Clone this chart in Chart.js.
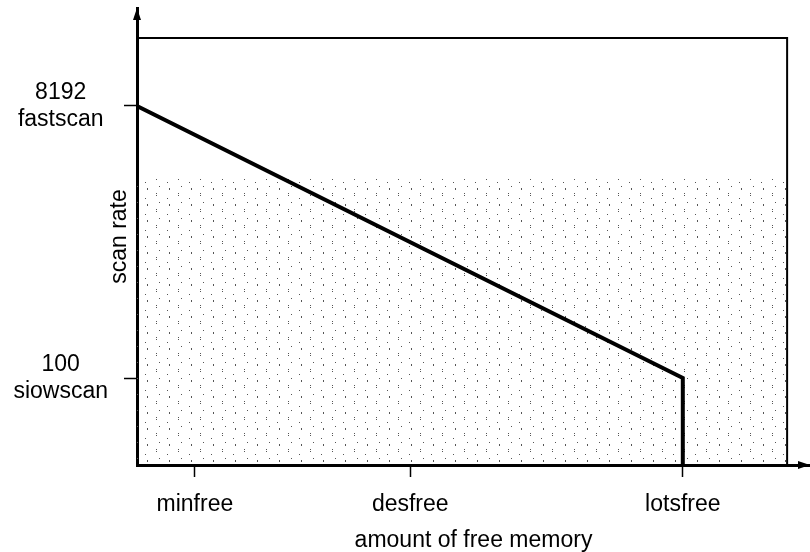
<!DOCTYPE html>
<html>
<head>
<meta charset="utf-8">
<script src="https://cdn.jsdelivr.net/npm/chart.js@4.4.0/dist/chart.umd.min.js"></script>
<style>
  body { margin: 0; background: #fff; }
  canvas { display: block; }
</style>
</head>
<body>
<canvas id="chart" width="810" height="552"></canvas>
<script>
// x is in % of the axis length, y is the scan rate
const freeMemLabels = ["minfree", "desfree", "lotsfree"];
const freeMemValues = [8.6, 40.6, 81.1];
const rateLabels = [["100", "siowscan"], ["8192", "fastscan"]];
const rateValues = [100, 8192];

const scanX = [0, 81.1, 81.1];
const scanY = [8192, 100, -2488];

const boxX = [0, 96.6, 96.6];
const boxY = [10215, 10215, -2488];

const shadeX = [0, 96.6];
const shadeY = [6050, 6050];

const pts = (xs, ys) => xs.map((x, i) => ({ x: x, y: ys[i] }));

// dotted halftone of the scanned figure
function dots() {
  const c = document.createElement("canvas");
  c.width = 22; c.height = 16;
  const g = c.getContext("2d");
  g.fillStyle = "#555";
  [[2,1],[2,3],[5,10],[13,6],[15,12],[15,13]].forEach(p => g.fillRect(p[0], p[1], 1, 1));
  return g.createPattern(c, "repeat");
}

const arrows = {
  id: "arrows",
  afterDraw(chart) {
    const ctx = chart.ctx, x = chart.scales.x, y = chart.scales.y;
    const x0 = x.getPixelForValue(0), y0 = y.getPixelForValue(-2488);
    const xEnd = x.getPixelForValue(100), yEnd = y.getPixelForValue(11107);
    ctx.save();
    ctx.fillStyle = "#000";
    ctx.beginPath();
    ctx.moveTo(x0, yEnd); ctx.lineTo(x0 - 4, yEnd + 12); ctx.lineTo(x0 + 4, yEnd + 12);
    ctx.fill();
    ctx.beginPath();
    ctx.moveTo(xEnd, y0); ctx.lineTo(xEnd - 12, y0 - 4); ctx.lineTo(xEnd - 12, y0 + 4);
    ctx.fill();
    ctx.restore();
  }
};

const font = { family: "'Liberation Sans', Arial, sans-serif", size: 23 };

new Chart("chart", {
  type: "line",
  data: {
    datasets: [
      {
        data: pts(scanX, scanY),
        borderColor: "#000",
        borderWidth: 4,
        pointRadius: 0,
        fill: false,
        order: 1
      },
      {
        data: pts(boxX, boxY),
        borderColor: "#000",
        borderWidth: 2,
        pointRadius: 0,
        fill: false,
        order: 2
      },
      {
        data: pts(shadeX, shadeY),
        borderWidth: 0,
        pointRadius: 0,
        fill: "start",
        backgroundColor: dots(),
        order: 3
      }
    ]
  },
  options: {
    responsive: false,
    animation: false,
    layout: { padding: { top: 8, right: 0, left: 0, bottom: 0 } },
    plugins: { legend: { display: false }, tooltip: { enabled: false } },
    scales: {
      x: {
        type: "linear",
        min: 0,
        max: 100,
        afterFit: s => { s.height = 87; s.paddingLeft = 0; s.paddingRight = 0; },
        afterBuildTicks: s => { s.ticks = freeMemValues.map(v => ({ value: v })); },
        ticks: {
          autoSkip: false,
          maxRotation: 0,
          padding: 14,
          color: "#000",
          font: font,
          callback: (v) => freeMemLabels[freeMemValues.indexOf(v)]
        },
        grid: { drawOnChartArea: false, drawTicks: true, tickLength: 12, tickColor: "#000", tickWidth: 1.5 },
        border: { display: true, color: "#000", width: 3 },
        title: { display: true, text: "amount of free memory", color: "#000", font: { family: font.family, size: 23, lineHeight: 1 }, padding: 0 }
      },
      y: {
        type: "linear",
        min: -2488,
        max: 11107,
        afterFit: s => { s.width = 137; s.paddingTop = 0; s.paddingBottom = 0; },
        afterBuildTicks: s => { s.ticks = rateValues.map(v => ({ value: v })); },
        ticks: {
          autoSkip: false,
          crossAlign: "center",
          padding: 16,
          color: "#000",
          font: { family: font.family, size: 23, lineHeight: 1.17 },
          callback: (v) => rateLabels[rateValues.indexOf(v)]
        },
        grid: { drawOnChartArea: false, drawTicks: true, tickLength: 13, tickColor: "#000", tickWidth: 1.5 },
        border: { display: true, color: "#000", width: 3 },
        title: { display: true, text: "scan rate", color: "#000", font: font, padding: { top: 106, bottom: 0 } }
      }
    }
  },
  plugins: [arrows]
});
</script>
</body>
</html>
